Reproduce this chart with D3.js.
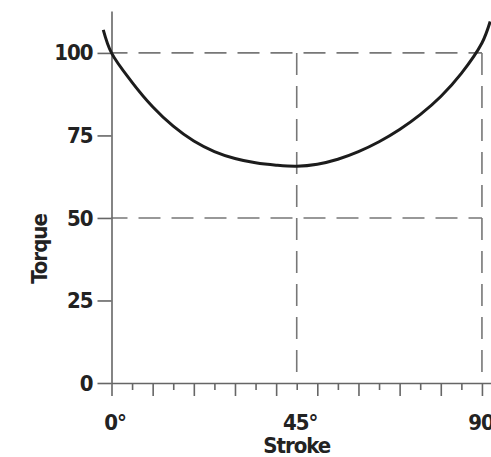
<!DOCTYPE html>
<html>
<head>
<meta charset="utf-8">
<script src="https://cdn.jsdelivr.net/npm/d3@7"></script>
<style>
  body { margin: 0; background: #fff; }
  .lbl { font-family: "DejaVu Sans Condensed", "DejaVu Sans", sans-serif; font-stretch: condensed; font-weight: bold; font-size: 22px; letter-spacing: -1px; fill: #222; }
</style>
</head>
<body>
<div id="chart"></div>
<script>
// curve (stroke angle in degrees, torque)
var strokeDeg = [-2, 0, 5, 10, 15, 20, 25, 30, 35, 40, 45, 50, 55, 60, 65, 70, 75, 80, 85, 90, 92];
var torque = [107, 100, 91.1, 83.7, 77.8, 73.3, 70.1, 68.0, 66.7, 66.0, 65.7, 66.3, 67.8, 70.1, 73.1, 76.8, 81.3, 86.8, 93.8, 103, 109.5];

var yTicks = [0, 25, 50, 75, 100];
var xLabels = [0, 45, 90];
var gridY = [50, 100];
var gridX = [45, 90];

var svgWidth = 491;
var svgHeight = 457;

var svg = d3.select("#chart")
    .append("svg")
    .attr("width", svgWidth)
    .attr("height", svgHeight);

var x = d3.scaleLinear().domain([0, 92.2]).range([111.5, 491]);
var y = d3.scaleLinear().domain([0, 112.7]).range([383, 11]);

var axisColor = "#666";

// dashed grid
svg.selectAll(".gy")
    .data(gridY)
    .enter()
    .append("line")
    .attr("x1", x(0))
    .attr("x2", x(90))
    .attr("y1", d => y(d))
    .attr("y2", d => y(d))
    .attr("stroke", "#777")
    .attr("stroke-width", 1.6)
    .attr("stroke-dasharray", "22,11")
    .attr("stroke-dashoffset", 6);

svg.selectAll(".gx")
    .data(gridX)
    .enter()
    .append("line")
    .attr("x1", d => x(d))
    .attr("x2", d => x(d))
    .attr("y1", y(100))
    .attr("y2", y(0))
    .attr("stroke", "#777")
    .attr("stroke-width", 1.6)
    .attr("stroke-dasharray", "22,11");

// y axis
var yAxis = svg.append("g")
    .attr("transform", `translate(${x(0)},0)`)
    .call(d3.axisLeft(y).tickValues(yTicks).tickSize(14).tickSizeOuter(0).tickPadding(5));

// x axis: long ticks every 10, short every 5
var xMajor = svg.append("g")
    .attr("transform", `translate(0,${y(0)})`)
    .call(d3.axisBottom(x).tickValues(d3.range(0, 91, 10)).tickSize(13).tickSizeOuter(0).tickFormat(""));

var xMinor = svg.append("g")
    .attr("transform", `translate(0,${y(0)})`)
    .call(d3.axisBottom(x).tickValues(d3.range(5, 90, 10)).tickSize(7).tickFormat(""));
xMinor.select(".domain").remove();

var xLab = svg.append("g")
    .attr("transform", `translate(0,${y(0)})`)
    .call(d3.axisBottom(x).tickValues(xLabels).tickSize(0).tickPadding(31).tickFormat(d => d + "°"));
xLab.select(".domain").remove();

[yAxis, xMajor, xMinor].forEach(function(g) {
    g.selectAll("path, line").attr("stroke", axisColor).attr("stroke-width", 1.6);
});

[yAxis, xLab].forEach(function(g) {
    g.selectAll("text")
        .attr("class", "lbl")
        .attr("font-family", null)
        .attr("font-size", null)
        .attr("fill", null);
    g.attr("font-family", null).attr("font-size", null);
});
xLab.selectAll("text").attr("dx", 3);

// torque curve
var line = d3.line()
    .x((d, i) => x(strokeDeg[i]))
    .y(d => y(d))
    .curve(d3.curveCatmullRom);

svg.append("path")
    .datum(torque)
    .attr("d", line)
    .attr("fill", "none")
    .attr("stroke", "#1c1c1c")
    .attr("stroke-width", 3);

// axis titles
svg.append("text")
    .attr("class", "lbl")
    .attr("transform", "translate(39,249) rotate(-90)")
    .attr("text-anchor", "middle")
    .attr("dy", "0.35em")
    .text("Torque");

svg.append("text")
    .attr("class", "lbl")
    .attr("x", x(45))
    .attr("y", 453)
    .attr("text-anchor", "middle")
    .text("Stroke");
</script>
</body>
</html>
